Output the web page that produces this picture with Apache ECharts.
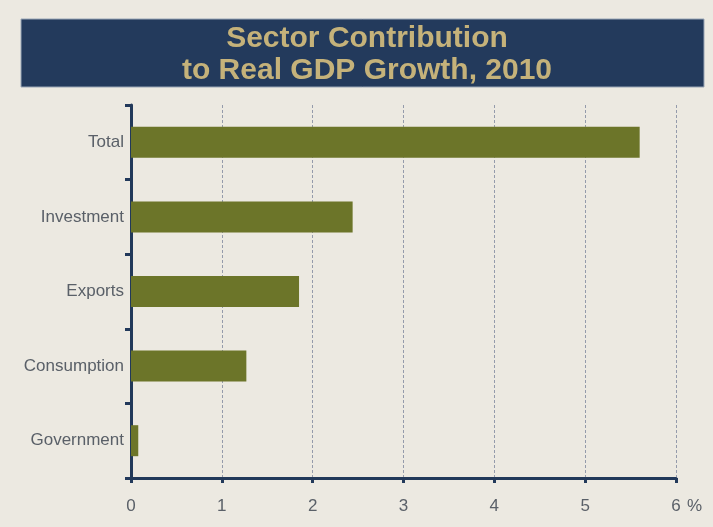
<!DOCTYPE html>
<html>
<head>
<meta charset="utf-8">
<script src="https://cdn.jsdelivr.net/npm/echarts@6/dist/echarts.min.js"></script>
<style>
  html, body { margin: 0; padding: 0; background: #ece9e1; }
  #chart { width: 713px; height: 527px; }
</style>
</head>
<body>
<div id="chart"></div>
<script>
// Contribution of each sector to real GDP growth, percentage points
const categories = ['Total', 'Investment', 'Exports', 'Consumption', 'Government'];
const contribution = [5.6, 2.44, 1.85, 1.27, 0.08];
const xTicks = [0, 1, 2, 3, 4, 5, 6];

const navy = '#22395a';
const olive = '#6c7529';

const chart = echarts.init(document.getElementById('chart'));

chart.setOption({
  backgroundColor: '#ece9e1',
  animation: false,
  graphic: [{
    type: 'rect',
    shape: { x: 21, y: 19, width: 683, height: 68 },
    style: { fill: '#233a5c', stroke: '#9aa6b6', lineWidth: 1 },
    z: -1
  }],
  title: {
    text: 'Sector Contribution\nto Real GDP Growth, 2010',
    left: 362,
    top: 18,
    textAlign: 'center',
    textStyle: {
      color: '#c5b27a',
      fontFamily: '"Liberation Sans Narrow", "Liberation Sans", Arial, sans-serif',
      fontWeight: 'bold',
      fontSize: 30,
      lineHeight: 32
    }
  },
  grid: { left: 131, right: 37, top: 105, bottom: 49, containLabel: false },
  xAxis: {
    type: 'value',
    min: xTicks[0],
    max: xTicks[xTicks.length - 1],
    interval: 1,
    name: '%',
    nameLocation: 'end',
    nameGap: 11,
    nameTextStyle: {
      color: '#5a6068',
      fontSize: 17,
      fontFamily: '"Liberation Sans", Arial, sans-serif',
      verticalAlign: 'top',
      padding: [20, 0, 0, 0]
    },
    axisLine: { show: true, lineStyle: { color: navy, width: 3 } },
    axisTick: { show: true, length: 5, lineStyle: { color: navy, width: 3 } },
    axisLabel: {
      color: '#5a6068',
      fontSize: 17,
      fontFamily: '"Liberation Sans", Arial, sans-serif',
      margin: 20
    },
    splitLine: {
      show: true,
      lineStyle: { color: '#949bab', width: 1, type: [3, 2] }
    }
  },
  yAxis: {
    type: 'category',
    data: categories,
    inverse: true,
    axisLine: { show: true, lineStyle: { color: navy, width: 3 } },
    axisTick: { show: true, length: 6, lineStyle: { color: navy, width: 3 } },
    axisLabel: {
      color: '#5a6068',
      fontSize: 17,
      fontFamily: '"Liberation Sans", Arial, sans-serif',
      margin: 7
    },
    splitLine: { show: false }
  },
  series: [{
    type: 'bar',
    data: contribution,
    barWidth: 31,
    itemStyle: { color: olive },
    z: 3
  }]
});
</script>
</body>
</html>
